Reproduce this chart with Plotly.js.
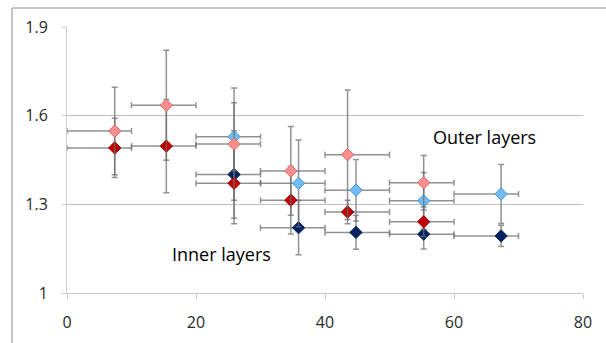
<!DOCTYPE html>
<html>
<head>
<meta charset="utf-8">
<script src="https://cdn.plot.ly/plotly-3.0.1.min.js"></script>
<style>html,body{margin:0;padding:0;background:#fff;}#chart{width:606px;height:343px;}</style>
</head>
<body>
<div id="chart"></div>
<script>
// Outer layers (light red) – bins 0-60
const outerRedX    = [7.4, 15.4, 25.9, 34.7, 43.5, 55.3];
const outerRedY    = [1.548, 1.635, 1.504, 1.413, 1.468, 1.373];
const outerRedErr  = [0.148, 0.186, 0.19, 0.15, 0.219, 0.092];
const outerRedLow  = [0, 10, 20, 30, 40, 50];
const outerRedHigh = [10, 20, 30, 40, 50, 60];

// Inner layers (dark red)
const innerRedX    = [7.4, 15.4, 25.9, 34.7, 43.5, 55.3];
const innerRedY    = [1.491, 1.497, 1.371, 1.314, 1.274, 1.241];
const innerRedErr  = [0.1, 0.158, 0.137, 0.114, 0.04, 0.05];
const innerRedLow  = [0, 10, 20, 30, 40, 50];
const innerRedHigh = [10, 20, 30, 40, 50, 60];

// Outer layers (light blue) – bins 20-70
const outerBlueX    = [25.9, 35.9, 44.8, 55.3, 67.3];
const outerBlueY    = [1.529, 1.371, 1.348, 1.312, 1.335];
const outerBlueErr  = [0.115, 0.147, 0.104, 0.096, 0.1];
const outerBlueLow  = [20, 30, 40, 50, 60];
const outerBlueHigh = [30, 40, 50, 60, 70];

// Inner layers (navy)
const innerBlueX    = [25.9, 35.9, 44.8, 55.3, 67.3];
const innerBlueY    = [1.401, 1.221, 1.205, 1.199, 1.193];
const innerBlueErr  = [0.148, 0.092, 0.057, 0.05, 0.036];
const innerBlueLow  = [20, 30, 40, 50, 60];
const innerBlueHigh = [30, 40, 50, 60, 70];

const xTicks = [0, 20, 40, 60, 80];
const yTicks = [1, 1.3, 1.6, 1.9];
const yTickText = ['1', '1.3', '1.6', '1.9'];
const labels = [
  {text: 'Outer layers', x: 64.7, y: 1.528},
  {text: 'Inner layers', x: 24.0, y: 1.132}
];

const errColor = 'rgba(110,110,110,0.75)';
function mk(x, y, err, lo, hi, fill, line) {
  return {
    type: 'scatter', mode: 'markers', x: x, y: y,
    marker: {symbol: 'diamond', size: 9.5, color: fill, line: {color: line, width: 1}},
    error_y: {type: 'data', symmetric: true, array: err, color: errColor, thickness: 1.5, width: 3},
    error_x: {type: 'data', symmetric: false,
      array: hi.map((h, i) => h - x[i]), arrayminus: x.map((v, i) => v - lo[i]),
      color: errColor, thickness: 1.5, width: 3},
    showlegend: false, hoverinfo: 'skip'
  };
}

const traces = [
  mk(innerBlueX, innerBlueY, innerBlueErr, innerBlueLow, innerBlueHigh, '#002060', '#0d2a5e'),
  mk(outerBlueX, outerBlueY, outerBlueErr, outerBlueLow, outerBlueHigh, '#72BDF5', '#4a95d6'),
  mk(innerRedX, innerRedY, innerRedErr, innerRedLow, innerRedHigh, '#C00000', '#a00000'),
  mk(outerRedX, outerRedY, outerRedErr, outerRedLow, outerRedHigh, '#FF8F8F', '#d06868')
];

const font = {family: 'Open Sans, Liberation Sans, sans-serif', size: 16, color: '#2a2a2a'};

const layout = {
  width: 606, height: 343,
  margin: {l: 67, r: 23, t: 27, b: 50},
  paper_bgcolor: '#fff', plot_bgcolor: '#fff',
  font: font,
  showlegend: false,
  xaxis: {
    range: [0, 80], tickvals: xTicks, ticktext: xTicks.map(String),
    showgrid: false, zeroline: false,
    showline: true, linecolor: '#c8c8c8', linewidth: 1,
    ticks: 'outside', ticklen: 5, tickcolor: '#c8c8c8',
    ticklabelstandoff: 10, tickfont: font
  },
  yaxis: {
    range: [1, 1.9], tickvals: yTicks, ticktext: yTickText,
    showgrid: true, gridcolor: '#c0c0c0', gridwidth: 1, zeroline: false,
    showline: true, linecolor: '#d0d0d0', linewidth: 1,
    ticks: 'outside', ticklen: 5, tickcolor: '#d0d0d0',
    ticklabelstandoff: 10, tickfont: font
  },
  annotations: labels.map(l => ({
    text: l.text, x: l.x, y: l.y, xref: 'x', yref: 'y', showarrow: false,
    font: {family: 'Open Sans, Liberation Sans, sans-serif', size: 18, color: '#000'}
  })),
  shapes: [
    {type: 'line', xref: 'paper', yref: 'paper', x0: (12 - 67) / 516, x1: (12 - 67) / 516, y0: 1 + (27 - 8) / 266, y1: -0.3, line: {color: '#8a8a8a', width: 1}},
    {type: 'line', xref: 'paper', yref: 'paper', x0: (12 - 67) / 516, x1: 1.2, y0: 1 + (27 - 8) / 266, y1: 1 + (27 - 8) / 266, line: {color: '#8a8a8a', width: 1}}
  ]
};

Plotly.newPlot('chart', traces, layout, {displayModeBar: false, staticPlot: true});
</script>
</body>
</html>
